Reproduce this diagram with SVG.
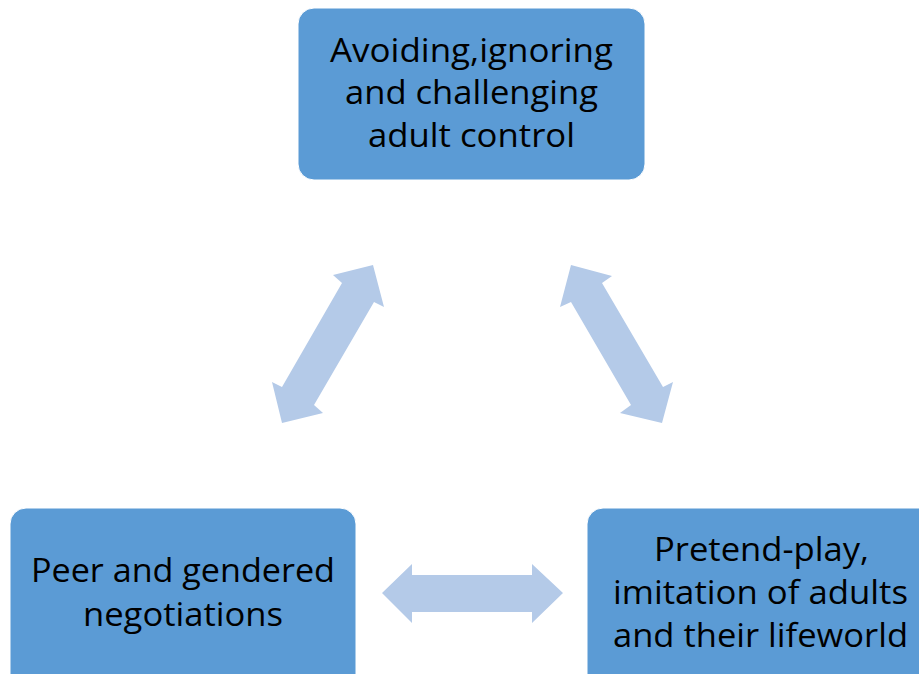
<svg xmlns="http://www.w3.org/2000/svg" width="919" height="674" viewBox="0 0 919 674">
<style>
.box{fill:#5B9BD5;stroke:#ffffff;stroke-width:1}
.lbl{font-family:"Open Sans","Noto Sans",sans-serif;font-size:33px;fill:#000;text-anchor:middle}
.arr{fill:#B4CAE8}
</style>
<rect width="919" height="674" fill="#ffffff"/>
<g id="connectors">
<polygon class="arr" points="373,265 384,307 374,302 314,405 323,413 282,423 272,382 282,387 342,283 333,275"/>
<polygon class="arr" points="571,265 612,276 602,283 663,387 673,382 662,423 620,413 631,405 571,302 560,307"/>
<polygon class="arr" points="382,593 412,564 412,575 532,575 532,564 563,593 532,623 532,612 412,612 412,623"/>
</g>
<g id="node-top">
<rect class="box" x="298" y="8" width="347" height="172" rx="16"/>
<text class="lbl" x="471.5" y="62" textLength="283" lengthAdjust="spacingAndGlyphs">Avoiding,ignoring</text>
<text class="lbl" x="471.5" y="104" textLength="253" lengthAdjust="spacingAndGlyphs">and challenging</text>
<text class="lbl" x="471.5" y="147" textLength="207" lengthAdjust="spacingAndGlyphs">adult control</text>
</g>
<g id="node-left">
<rect class="box" x="10" y="508" width="346" height="190" rx="16"/>
<text class="lbl" x="183" y="582" textLength="304" lengthAdjust="spacingAndGlyphs">Peer and gendered</text>
<text class="lbl" x="183" y="626" textLength="200" lengthAdjust="spacingAndGlyphs">negotiations</text>
</g>
<g id="node-right">
<rect class="box" x="587" y="508" width="360" height="190" rx="16"/>
<text class="lbl" x="761.5" y="561" textLength="215" lengthAdjust="spacingAndGlyphs">Pretend-play,</text>
<text class="lbl" x="760.5" y="604" textLength="295" lengthAdjust="spacingAndGlyphs">imitation of adults</text>
<text class="lbl" x="760.5" y="647" textLength="295" lengthAdjust="spacingAndGlyphs">and their lifeworld</text>
</g>
</svg>
